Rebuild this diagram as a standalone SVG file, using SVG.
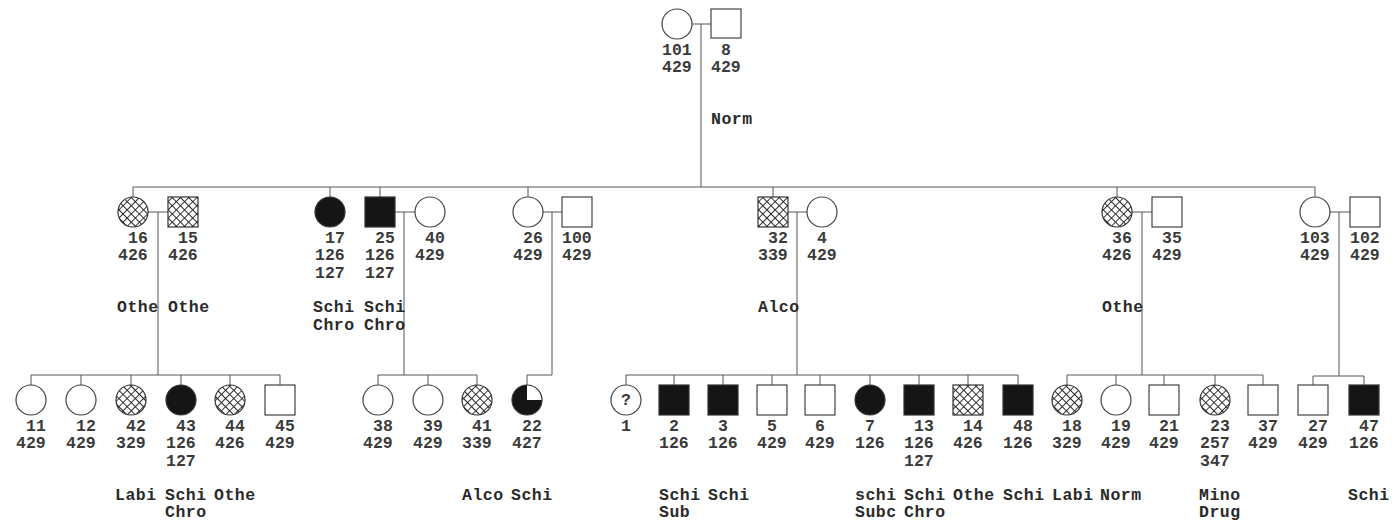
<svg xmlns="http://www.w3.org/2000/svg" width="1396" height="525" viewBox="0 0 1396 525">
<defs>
<pattern id="xh" patternUnits="userSpaceOnUse" width="5.8" height="5.8" patternTransform="rotate(45)">
<rect width="5.8" height="5.8" fill="#fff"/>
<path d="M0 0H5.8M0 0V5.8" stroke="#222" stroke-width="1.8" fill="none"/>
</pattern>
</defs>
<style>
.s{fill:#fff;stroke:#444;stroke-width:1.2}
.f{fill:#151515;stroke:#333;stroke-width:1.2}
.h{fill:url(#xh);stroke:#333;stroke-width:1.2}
.t{font-family:"Liberation Mono",monospace;font-size:16.5px;font-weight:bold;fill:#3a3a3a}
.d{font-family:"Liberation Mono",monospace;font-size:16.5px;font-weight:bold;fill:#2a2a2a;letter-spacing:0.5px}
.c line,.c path{stroke:#555;stroke-width:1;fill:none}
</style>
<rect width="1396" height="525" fill="#fff"/>
<g class="c" id="connectors">
<line x1="692" y1="24" x2="711" y2="24"/>
<line x1="701" y1="24" x2="701" y2="187"/>
<line x1="133" y1="187" x2="1315" y2="187"/>
<line x1="133" y1="187" x2="133" y2="197"/>
<line x1="330" y1="187" x2="330" y2="197"/>
<line x1="380" y1="187" x2="380" y2="197"/>
<line x1="528" y1="187" x2="528" y2="197"/>
<line x1="773" y1="187" x2="773" y2="197"/>
<line x1="1117" y1="187" x2="1117" y2="197"/>
<line x1="1315" y1="187" x2="1315" y2="197"/>
<line x1="148" y1="212" x2="168" y2="212"/>
<line x1="158" y1="212" x2="158" y2="375"/>
<line x1="395" y1="212" x2="415" y2="212"/>
<line x1="404" y1="212" x2="404" y2="375"/>
<line x1="543" y1="212" x2="562" y2="212"/>
<path d="M552 212V375H527V385"/>
<line x1="788" y1="212" x2="807" y2="212"/>
<line x1="797" y1="212" x2="797" y2="375"/>
<line x1="1132" y1="212" x2="1152" y2="212"/>
<line x1="1142" y1="212" x2="1142" y2="375"/>
<line x1="1330" y1="212" x2="1350" y2="212"/>
<line x1="1339" y1="212" x2="1339" y2="376"/>
<line x1="31" y1="375" x2="280" y2="375"/>
<path d="M31 375V385M81 375V385M131 375V385M181 375V385M230 375V385M280 375V385"/>
<line x1="378" y1="375" x2="477" y2="375"/>
<path d="M378 375V385M428 375V385M477 375V385"/>
<line x1="626" y1="375" x2="1018" y2="375"/>
<path d="M626 375V385M674 375V385M723 375V385M772 375V385M820 375V385M870 375V385M919 375V385M968 375V385M1018 375V385"/>
<line x1="1067" y1="375" x2="1263" y2="375"/>
<path d="M1067 375V385M1116 375V385M1164 375V385M1215 375V385M1263 375V385"/>
<line x1="1313" y1="376" x2="1364" y2="376"/>
<path d="M1313 376V385M1364 376V385"/>
</g>
<g id="n101"><circle class="s" cx="677" cy="24" r="15"/><text class="t" x="662" y="55">101</text><text class="t" x="662" y="72">429</text></g>
<g id="n8"><rect class="s" x="711" y="9" width="30" height="29"/><text class="t" x="721" y="55">8</text><text class="t" x="711" y="72">429</text><text class="d" x="711" y="124">Norm</text></g>

<g id="n16"><circle class="h" cx="133" cy="212" r="15"/><text class="t" x="128" y="243">16</text><text class="t" x="118" y="260">426</text><text class="d" x="117" y="312">Othe</text></g>
<g id="n15"><rect class="h" x="168" y="197" width="30" height="30"/><text class="t" x="178" y="243">15</text><text class="t" x="168" y="260">426</text><text class="d" x="168" y="312">Othe</text></g>
<g id="n17"><circle class="f" cx="330" cy="212" r="15"/><text class="t" x="325" y="243">17</text><text class="t" x="315" y="260">126</text><text class="t" x="315" y="278">127</text><text class="d" x="313" y="312">Schi</text><text class="d" x="313" y="330">Chro</text></g>
<g id="n25"><rect class="f" x="365" y="197" width="30" height="30"/><text class="t" x="375" y="243">25</text><text class="t" x="365" y="260">126</text><text class="t" x="365" y="278">127</text><text class="d" x="364" y="312">Schi</text><text class="d" x="364" y="330">Chro</text></g>
<g id="n40"><circle class="s" cx="430" cy="212" r="15"/><text class="t" x="425" y="243">40</text><text class="t" x="415" y="260">429</text></g>
<g id="n26"><circle class="s" cx="528" cy="212" r="15"/><text class="t" x="523" y="243">26</text><text class="t" x="513" y="260">429</text></g>
<g id="n100"><rect class="s" x="562" y="197" width="30" height="30"/><text class="t" x="562" y="243">100</text><text class="t" x="562" y="260">429</text></g>
<g id="n32"><rect class="h" x="758" y="197" width="30" height="30"/><text class="t" x="768" y="243">32</text><text class="t" x="758" y="260">339</text><text class="d" x="758" y="312">Alco</text></g>
<g id="n4"><circle class="s" cx="822" cy="212" r="15"/><text class="t" x="817" y="243">4</text><text class="t" x="807" y="260">429</text></g>
<g id="n36"><circle class="h" cx="1117" cy="212" r="15"/><text class="t" x="1112" y="243">36</text><text class="t" x="1102" y="260">426</text><text class="d" x="1102" y="312">Othe</text></g>
<g id="n35"><rect class="s" x="1152" y="197" width="30" height="30"/><text class="t" x="1162" y="243">35</text><text class="t" x="1152" y="260">429</text></g>
<g id="n103"><circle class="s" cx="1315" cy="212" r="15"/><text class="t" x="1300" y="243">103</text><text class="t" x="1300" y="260">429</text></g>
<g id="n102"><rect class="s" x="1350" y="197" width="30" height="30"/><text class="t" x="1350" y="243">102</text><text class="t" x="1350" y="260">429</text></g>

<g id="n11"><circle class="s" cx="31" cy="400" r="15"/><text class="t" x="26" y="431">11</text><text class="t" x="16" y="448">429</text></g>
<g id="n12"><circle class="s" cx="81" cy="400" r="15"/><text class="t" x="76" y="431">12</text><text class="t" x="66" y="448">429</text></g>
<g id="n42"><circle class="h" cx="131" cy="400" r="15"/><text class="t" x="126" y="431">42</text><text class="t" x="116" y="448">329</text><text class="d" x="115" y="500">Labi</text></g>
<g id="n43"><circle class="f" cx="181" cy="400" r="15"/><text class="t" x="176" y="431">43</text><text class="t" x="166" y="448">126</text><text class="t" x="166" y="466">127</text><text class="d" x="165" y="500">Schi</text><text class="d" x="165" y="517">Chro</text></g>
<g id="n44"><circle class="h" cx="230" cy="400" r="15"/><text class="t" x="225" y="431">44</text><text class="t" x="215" y="448">426</text><text class="d" x="214" y="500">Othe</text></g>
<g id="n45"><rect class="s" x="265" y="385" width="30" height="30"/><text class="t" x="275" y="431">45</text><text class="t" x="265" y="448">429</text></g>
<g id="n38"><circle class="s" cx="378" cy="400" r="15"/><text class="t" x="373" y="431">38</text><text class="t" x="363" y="448">429</text></g>
<g id="n39"><circle class="s" cx="428" cy="400" r="15"/><text class="t" x="423" y="431">39</text><text class="t" x="413" y="448">429</text></g>
<g id="n41"><circle class="h" cx="477" cy="400" r="15"/><text class="t" x="472" y="431">41</text><text class="t" x="462" y="448">339</text><text class="d" x="462" y="500">Alco</text></g>
<g id="n22"><circle cx="527" cy="400" r="15" fill="#151515"/><path d="M527 400V385A15 15 0 0 1 542 400Z" fill="#fff"/><circle cx="527" cy="400" r="15" fill="none" stroke="#333" stroke-width="1.2"/><text class="t" x="522" y="431">22</text><text class="t" x="512" y="448">427</text><text class="d" x="511" y="500">Schi</text></g>
<g id="n1"><circle class="s" cx="626" cy="400" r="15"/><text class="t" x="626" y="405" text-anchor="middle" font-size="13px">?</text><text class="t" x="621" y="431">1</text></g>
<g id="n2"><rect class="f" x="659" y="385" width="30" height="30"/><text class="t" x="669" y="431">2</text><text class="t" x="659" y="448">126</text><text class="d" x="659" y="500">Schi</text><text class="d" x="659" y="517">Sub</text></g>
<g id="n3"><rect class="f" x="708" y="385" width="30" height="30"/><text class="t" x="718" y="431">3</text><text class="t" x="708" y="448">126</text><text class="d" x="708" y="500">Schi</text></g>
<g id="n5"><rect class="s" x="757" y="385" width="30" height="30"/><text class="t" x="767" y="431">5</text><text class="t" x="757" y="448">429</text></g>
<g id="n6"><rect class="s" x="805" y="385" width="30" height="30"/><text class="t" x="815" y="431">6</text><text class="t" x="805" y="448">429</text></g>
<g id="n7"><circle class="f" cx="870" cy="400" r="15"/><text class="t" x="865" y="431">7</text><text class="t" x="855" y="448">126</text><text class="d" x="855" y="500">schi</text><text class="d" x="855" y="517">Subc</text></g>
<g id="n13"><rect class="f" x="904" y="385" width="30" height="30"/><text class="t" x="914" y="431">13</text><text class="t" x="904" y="448">126</text><text class="t" x="904" y="466">127</text><text class="d" x="904" y="500">Schi</text><text class="d" x="904" y="517">Chro</text></g>
<g id="n14"><rect class="h" x="953" y="385" width="30" height="30"/><text class="t" x="963" y="431">14</text><text class="t" x="953" y="448">426</text><text class="d" x="953" y="500">Othe</text></g>
<g id="n48"><rect class="f" x="1003" y="385" width="30" height="30"/><text class="t" x="1013" y="431">48</text><text class="t" x="1003" y="448">126</text><text class="d" x="1003" y="500">Schi</text></g>
<g id="n18"><circle class="h" cx="1067" cy="400" r="15"/><text class="t" x="1062" y="431">18</text><text class="t" x="1052" y="448">329</text><text class="d" x="1052" y="500">Labi</text></g>
<g id="n19"><circle class="s" cx="1116" cy="400" r="15"/><text class="t" x="1111" y="431">19</text><text class="t" x="1101" y="448">429</text><text class="d" x="1100" y="500">Norm</text></g>
<g id="n21"><rect class="s" x="1149" y="385" width="30" height="30"/><text class="t" x="1159" y="431">21</text><text class="t" x="1149" y="448">429</text></g>
<g id="n23"><circle class="h" cx="1215" cy="400" r="15"/><text class="t" x="1210" y="431">23</text><text class="t" x="1200" y="448">257</text><text class="t" x="1200" y="466">347</text><text class="d" x="1199" y="500">Mino</text><text class="d" x="1199" y="517">Drug</text></g>
<g id="n37"><rect class="s" x="1248" y="385" width="30" height="30"/><text class="t" x="1258" y="431">37</text><text class="t" x="1248" y="448">429</text></g>
<g id="n27"><rect class="s" x="1298" y="385" width="30" height="30"/><text class="t" x="1308" y="431">27</text><text class="t" x="1298" y="448">429</text></g>
<g id="n47"><rect class="f" x="1349" y="385" width="30" height="30"/><text class="t" x="1359" y="431">47</text><text class="t" x="1349" y="448">126</text><text class="d" x="1348" y="500">Schi</text></g>
</svg>
